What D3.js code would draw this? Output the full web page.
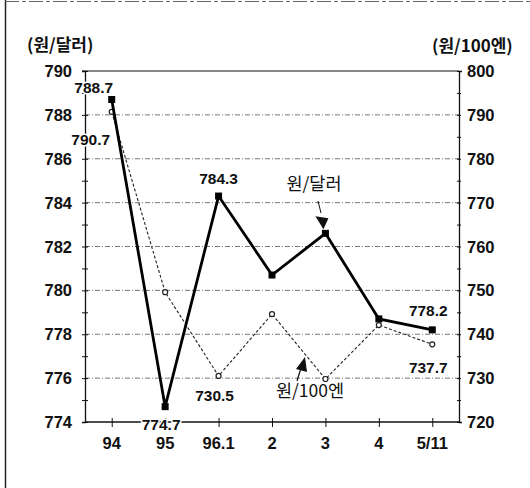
<!DOCTYPE html>
<html><head><meta charset="utf-8">
<script src="https://cdn.jsdelivr.net/npm/d3@7"></script>
<style>
body{margin:0;background:#fff;}
svg{display:block;}
</style></head>
<body>
<svg id="c" width="530" height="488"></svg>
<script>
const categories = ["94","95","96.1","2","3","4","5/11"];
const wonPerDollar = [788.7, 774.7, 784.3, 780.7, 782.6, 778.7, 778.2];
const wonPer100Yen = [790.7, 749.6, 730.5, 744.6, 729.8, 742.1, 737.7];
const leftTicks = [774,776,778,780,782,784,786,788,790];
const rightTicks = [720,730,740,750,760,770,780,790,800];
const leftTitle = "(원/달러)";
const rightTitle = "(원/100엔)";
const dollarName = "원/달러";
const yenName = "원/100엔";

const svg = d3.select("#c");
const L = 85, R = 459, T = 71, B = 422;
const x = d3.scalePoint().domain(categories).range([L, R]).padding(0.5);
const yL = d3.scaleLinear().domain([774, 790]).range([B, T]);
const yR = d3.scaleLinear().domain([720, 800]).range([B, T]);
const numFont = "'Liberation Sans', Arial, sans-serif";
const krFont = "'Noto Sans CJK KR', sans-serif";

// frame
svg.append("line").attr("x1",5.5).attr("x2",5.5).attr("y1",0).attr("y2",488).attr("stroke","#222").attr("stroke-width",1.5);
svg.append("line").attr("x1",5).attr("x2",530).attr("y1",1.5).attr("y2",1.5).attr("stroke","#666").attr("stroke-width",1).attr("stroke-dasharray","14,3,4,3");

// gridlines
const g = svg.append("g");
leftTicks.filter(v => v > 774 && v < 790).forEach(v => {
  g.append("line").attr("x1",L).attr("x2",R).attr("y1",yL(v)).attr("y2",yL(v))
   .attr("stroke","#777").attr("stroke-width",1).attr("stroke-dasharray","5,2,1,2");
});
g.append("line").attr("x1",L-3).attr("x2",R).attr("y1",yL(790)).attr("y2",yL(790)).attr("stroke","#111").attr("stroke-width",1.2);

// left axis
const axL = svg.append("g").attr("transform",`translate(${L},0)`)
  .call(d3.axisLeft(yL).tickValues(d3.range(774,791,1)).tickSize(3).tickFormat(""));
axL.select(".domain").attr("stroke","#111").attr("stroke-width",1.3);
axL.selectAll(".tick line").attr("stroke","#111").attr("x2",3).attr("x1",-3);
svg.append("g").selectAll("text").data(leftTicks).join("text")
  .attr("x",72).attr("y",d=>yL(d)+6).attr("text-anchor","end")
  .attr("font-family",numFont).attr("font-weight","bold").attr("font-size",16.5).attr("fill","#111")
  .text(d=>d);

// right axis
const axR = svg.append("g").attr("transform",`translate(${R},0)`)
  .call(d3.axisRight(yR).tickValues(d3.range(720,801,5)).tickSize(3).tickFormat(""));
axR.select(".domain").attr("stroke","#111").attr("stroke-width",1.3);
axR.selectAll(".tick line").attr("stroke","#111").attr("x1",-2).attr("x2",2);
svg.append("g").selectAll("text").data(rightTicks).join("text")
  .attr("x",467).attr("y",d=>yR(d)+6).attr("text-anchor","start")
  .attr("font-family",numFont).attr("font-weight","bold").attr("font-size",16.5).attr("fill","#111")
  .text(d=>d);

// bottom axis
const axB = svg.append("g").attr("transform",`translate(0,${B})`)
  .call(d3.axisBottom(x).tickSize(4).tickFormat(""));
axB.select(".domain").attr("d",`M${L},0H${R}`).attr("stroke","#111").attr("stroke-width",1.3);
axB.selectAll(".tick line").attr("stroke","#111").attr("y1",-4).attr("y2",5);
svg.append("g").selectAll("text").data(categories).join("text")
  .attr("x",d=>x(d)).attr("y",449).attr("text-anchor","middle")
  .attr("font-family",numFont).attr("font-weight","bold").attr("font-size",16.5).attr("fill","#111")
  .text(d=>d);

// axis titles
svg.append("text").attr("x",27).attr("y",51).attr("font-family",krFont).attr("font-weight","bold")
  .attr("font-size",17).attr("fill","#111").text(leftTitle);
svg.append("text").attr("x",432).attr("y",52).attr("font-family",krFont).attr("font-weight","bold")
  .attr("font-size",17).attr("fill","#111").text(rightTitle);

// yen series
const lineYen = d3.line().x((d,i)=>x(categories[i])).y(d=>yR(d));
svg.append("path").datum(wonPer100Yen).attr("d",lineYen).attr("fill","none")
  .attr("stroke","#222").attr("stroke-width",1.1).attr("stroke-dasharray","3,2");
svg.append("g").selectAll("circle").data(wonPer100Yen).join("circle")
  .attr("cx",(d,i)=>x(categories[i])).attr("cy",d=>yR(d)).attr("r",2.5)
  .attr("fill","#fff").attr("stroke","#222").attr("stroke-width",1.2);

// dollar series
const lineUsd = d3.line().x((d,i)=>x(categories[i])).y(d=>yL(d));
svg.append("path").datum(wonPerDollar).attr("d",lineUsd).attr("fill","none")
  .attr("stroke","#000").attr("stroke-width",2.8).attr("stroke-linejoin","miter");
svg.append("g").selectAll("rect").data(wonPerDollar).join("rect")
  .attr("x",(d,i)=>x(categories[i])-3.5).attr("y",d=>yL(d)-3.5).attr("width",7).attr("height",7).attr("fill","#000");

// value labels
function lab(t, xx, yy){
  svg.append("text").attr("x",xx).attr("y",yy).attr("text-anchor","middle")
    .attr("font-family",numFont).attr("font-weight","bold").attr("font-size",15.5).attr("fill","#111")
    .attr("stroke","#fff").attr("stroke-width",3).attr("paint-order","stroke")
    .text(t);
}
lab(wonPerDollar[0].toFixed(1), x(categories[0])-18, yL(wonPerDollar[0])-7);
lab(wonPer100Yen[0].toFixed(1), x(categories[0])-21, yR(wonPer100Yen[0])+33);
lab(wonPerDollar[2].toFixed(1), x(categories[2]), yL(wonPerDollar[2])-12);
lab(wonPerDollar[1].toFixed(1), x(categories[1])-4, yL(wonPerDollar[1])+23);
lab(wonPer100Yen[2].toFixed(1), x(categories[2])-4, yR(wonPer100Yen[2])+25);
lab(wonPerDollar[6].toFixed(1), x(categories[6])-4, yL(wonPerDollar[6])-14);
lab(wonPer100Yen[6].toFixed(1), x(categories[6])-4, yR(wonPer100Yen[6])+29);

// annotations
const px3 = x(categories[4]), py3 = yL(wonPerDollar[4]);
svg.append("text").attr("x",314).attr("y",190).attr("text-anchor","middle")
  .attr("font-family",krFont).attr("font-size",17.5).attr("fill","#111").text(dollarName);
svg.append("line").attr("x1",318).attr("y1",201).attr("x2",321).attr("y2",213).attr("stroke","#111").attr("stroke-width",1);
svg.append("path").attr("d",`M${px3-10},${py3-17}L${px3+3},${py3-15}L${px3-2},${py3-4}Z`).attr("fill","#111");

svg.append("text").attr("x",310).attr("y",397).attr("text-anchor","middle")
  .attr("font-family",krFont).attr("font-size",17.5).attr("fill","#111").text(yenName);
svg.append("line").attr("x1",297).attr("y1",381).attr("x2",301).attr("y2",368).attr("stroke","#111").attr("stroke-width",1.2);
svg.append("path").attr("d","M296,369L307,372L305,357Z").attr("fill","#111");
</script>
</body></html>
